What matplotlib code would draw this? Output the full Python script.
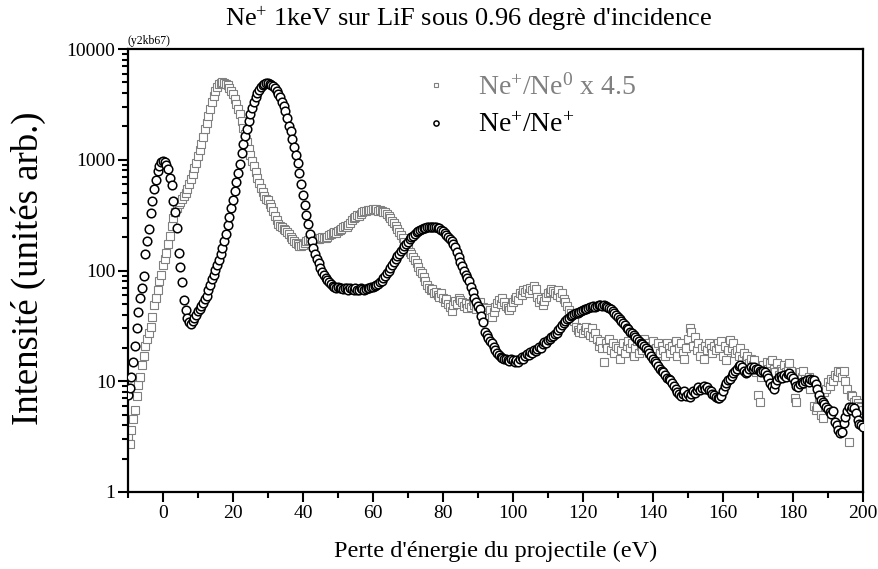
import numpy as np
import matplotlib
matplotlib.use('Agg')
import matplotlib.pyplot as plt
from matplotlib.ticker import LogLocator, MultipleLocator, NullFormatter, FixedLocator

plt.rcParams['font.family'] = 'serif'
plt.rcParams['font.serif'] = ['Liberation Serif', 'DejaVu Serif']
plt.rcParams['mathtext.fontset'] = 'custom'
plt.rcParams['mathtext.rm'] = 'Liberation Serif'
plt.rcParams['mathtext.it'] = 'Liberation Serif:italic'

# energy loss grid (eV), one channel every 0.5 eV
energy = np.arange(-10, 200.5, 0.5)

# Ne+ scattered as Ne+ (arb. units), 10 channels per row
ne_plus = [
    7.5, 8.7, 11, 15, 21, 30, 42, 56, 70, 90,
    140, 185, 235, 330, 420, 550, 660, 790, 880, 950,
    980, 950, 900, 830, 690, 590, 420, 340, 240, 145,
    108, 78, 54, 44, 37, 34, 33, 35, 37, 40,
    43, 45, 48, 51, 55, 59, 66, 74, 83, 92,
    102, 112, 125, 140, 160, 185, 212, 255, 305, 365,
    435, 520, 625, 760, 920, 1150, 1400, 1650, 1900, 2250,
    2600, 2950, 3300, 3650, 4000, 4250, 4500, 4700, 4850, 4900,
    4900, 4850, 4750, 4600, 4400, 4200, 3950, 3650, 3350, 3050,
    2750, 2400, 2000, 1800, 1550, 1300, 1100, 930, 760, 600,
    480, 390, 320, 265, 215, 185, 160, 142, 128, 117,
    106, 97, 91, 86, 82, 78, 75, 73, 71, 70,
    71, 69, 70, 68, 70, 69, 67, 70, 68, 66,
    69, 67, 66, 69, 68, 66, 68, 70, 69, 71,
    71, 72, 74, 76, 79, 81, 86, 90, 95, 100,
    106, 112, 119, 127, 135, 142, 149, 157, 165, 173,
    182, 191, 199, 207, 214, 221, 227, 232, 237, 240,
    243, 246, 248, 249, 247, 249, 246, 243, 240, 233,
    226, 218, 210, 202, 193, 183, 172, 162, 148, 133,
    120, 110, 99, 91, 85, 80, 71, 64, 57, 52,
    48, 45, 39, 34, 28, 26, 24.5, 23, 22, 20.5,
    19, 18, 17.2, 16.5, 16.2, 15.8, 16, 15.5, 15.2, 15.8,
    15.4, 15, 15.6, 15, 15.8, 16.4, 16, 17, 17.8, 17.2,
    18.5, 18, 19, 18.6, 19.5, 20.5, 20, 21.5, 22.5, 22,
    23.5, 24, 25, 25.5, 26.5, 27.5, 29, 30.5, 32, 33.5,
    35, 36.5, 37.5, 38.5, 39.5, 40.5, 41, 41.5, 42.5, 43,
    44, 44.5, 45, 46, 46.5, 47, 47.5, 47, 48, 48.5,
    49, 48, 49, 48, 47, 46, 44.5, 43, 41.5, 40,
    38, 36.5, 35, 33.5, 32, 30.5, 29.5, 28, 27, 26,
    25, 24, 23, 22, 21.5, 21, 20, 19, 18, 17,
    16, 15.3, 14.5, 13.8, 13, 12.5, 12, 11.3, 10.8, 10.5,
    10.2, 9.6, 9, 8.5, 8, 7.6, 7.4, 7.6, 8.2, 7.3,
    7.6, 7.2, 7.6, 8.1, 7.8, 8.4, 8.9, 8.3, 8.7, 9.1,
    8.6, 8.9, 8.4, 8.2, 7.7, 7.5, 7.2, 7.0, 7.1, 7.4,
    8.2, 9.0, 9.6, 10.2, 10.5, 11.2, 11.8, 12.5, 13, 13.8,
    14, 13.5, 12.5, 11.8, 12, 12.8, 13.4, 13, 13.5, 12.8,
    13, 12.4, 12, 12.5, 12.1, 11.5, 10.6, 9.6, 9, 8.6,
    9.5, 10.3, 11, 11.2, 10.8, 11.5, 11, 11.6, 11.8, 11.2,
    10.6, 9.8, 9, 8.9, 9.4, 9.9, 9.6, 10, 10.3, 9.9,
    10.4, 10.2, 10.3, 9.5, 8.5, 7.5, 6.8, 6.5, 6.2, 5.9,
    5.6, 5.3, 5.1, 5.4, 4.3, 4, 3.6, 3.4, 3.5, 4.2,
    4.8, 5.4, 5.8, 5.5, 5.9, 5.7, 5.2, 4.5, 4.1, 4.0,
    3.9,
]

# Ne+ scattered as Ne0, multiplied by 4.5
ne_zero_x45 = [
    3.2, 2.7, 3.6, 4.6, 5.5, 7.4, 9.3, 11, 14, 17,
    21, 24, 27, 31, 38, 49, 56, 67, 80, 92,
    112, 128, 145, 175, 205, 250, 300, 340, 370, 395,
    415, 440, 470, 500, 550, 600, 670, 750, 840, 930,
    1080, 1220, 1400, 1620, 1900, 2150, 2500, 2900, 3350, 3750,
    4150, 4500, 4800, 4950, 5000, 4950, 4850, 4700, 4450, 4200,
    3950, 3550, 3200, 2900, 2600, 2250, 1950, 1700, 1450, 1250,
    1100, 980, 870, 780, 690, 620, 560, 510, 470, 440,
    430, 400, 375, 345, 310, 285, 265, 252, 245, 238,
    232, 222, 212, 202, 192, 184, 177, 172, 166, 166,
    170, 178, 185, 188, 190, 186, 192, 196, 194, 191,
    196, 200, 198, 195, 202, 208, 212, 216, 222, 218,
    225, 232, 238, 245, 250, 246, 256, 270, 285, 295,
    305, 315, 312, 325, 335, 342, 348, 352, 355, 350,
    358, 352, 356, 348, 352, 346, 340, 336, 325, 310,
    296, 282, 266, 250, 236, 222, 208, 195, 182, 170,
    158, 148, 140, 132, 125, 117, 108, 100, 94, 88,
    80, 74, 70, 66, 68, 62, 64, 60, 58, 62,
    56, 52, 55, 50, 47, 43, 49, 53, 50, 56,
    54, 52, 48, 51, 46, 50, 47, 53, 49, 45,
    48, 52, 44, 47, 42, 46, 40, 44, 38, 42,
    47, 51, 54, 50, 56, 52, 48, 46, 44, 47,
    52, 55, 58, 54, 62, 60, 66, 64, 68, 62,
    70, 66, 72, 68, 58, 52, 55, 49, 53, 58,
    62, 64, 68, 65, 63, 60, 66, 58, 62, 55,
    52, 48, 44, 41, 38, 35, 31, 29, 28, 30,
    27, 29, 31, 28, 26, 30, 25, 27, 24, 21,
    23, 20, 15, 22, 20, 24, 19, 22, 18, 21,
    20, 16, 19, 22, 18, 21, 23, 20, 22, 17,
    20, 23, 18, 21, 19, 24, 20, 22, 18, 21,
    23, 19, 20, 22, 18, 21, 19, 17, 22, 20,
    18, 21, 19, 23, 17, 20, 22, 18, 16, 20,
    24, 30, 28, 21, 25, 19, 22, 17, 20, 16,
    21, 19, 22, 20, 18, 21, 19, 22, 20, 23,
    17, 21, 15.5, 19, 23.5, 20, 22, 18, 19, 17,
    20, 16, 18, 15.5, 17, 14.5, 16, 14, 15.5, 12,
    7.5, 6.5, 11, 14, 12.5, 15, 13, 14.5, 15.5, 13,
    12, 14.5, 11.5, 13, 12.5, 14, 12, 13.5, 14.5, 12.5,
    11, 7, 6.5, 10, 12, 11, 12.5, 10.5, 9.5, 11,
    8.5, 10, 6, 5.5, 5.8, 7, 5, 4.7, 8, 8.5,
    9.8, 9, 10.5, 10, 11.5, 11, 12.5, 12, 11, 12.5,
    10, 8.5, 2.8, 7.5, 7.3, 6.5, 6.8, 6.3, 6, 5.8,
    5.5,
]

x_ticks = [0, 20, 40, 60, 80, 100, 120, 140, 160, 180, 200]
y_ticks = [1, 10, 100, 1000, 10000]
y_ticklabels = ['1', '10', '100', '1000', '10000']

fig = plt.figure(figsize=(8.79, 5.69), dpi=100)
ax = fig.add_axes([128 / 879, 1 - 492 / 569, 735 / 879, 443 / 569])

ax.plot(energy, ne_zero_x45, linestyle='none', marker='s', markersize=5.2,
        markerfacecolor='white', markeredgecolor='#808080', markeredgewidth=0.8,
        label=r'Ne$^{+}$/Ne$^{0}$ x 4.5', zorder=2)
ax.plot(energy, ne_plus, linestyle='none', marker='o', markersize=6.2,
        markerfacecolor='white', markeredgecolor='black', markeredgewidth=1.1,
        label=r'Ne$^{+}$/Ne$^{+}$', zorder=3)

ax.set_yscale('log')
ax.set_xlim(-10, 200)
ax.set_ylim(1, 10000)

ax.xaxis.set_major_locator(FixedLocator(x_ticks))
ax.xaxis.set_minor_locator(MultipleLocator(10))
ax.yaxis.set_major_locator(FixedLocator(y_ticks))
ax.set_yticklabels(y_ticklabels)
ax.yaxis.set_minor_locator(LogLocator(base=10, subs=np.arange(2, 10)))
ax.yaxis.set_minor_formatter(NullFormatter())

ax.tick_params(which='both', direction='out', top=False, right=False, width=1.5)
ax.tick_params(which='major', length=7, labelsize=14, pad=2)
ax.tick_params(which='minor', length=4)
for side in ax.spines.values():
    side.set_linewidth(1.6)

ax.set_xlabel("Perte d'énergie du projectile (eV)", fontsize=17.5, labelpad=14)
ax.set_ylabel('Intensité (unités arb.)', fontsize=26.5)
ax.yaxis.set_label_coords(-0.112, 0.505)

fig.text(469 / 879, 1 - 19 / 569, r"Ne$^{+}$ 1keV sur LiF sous 0.96 degrè d'incidence",
         ha='center', va='center', fontsize=19)
ax.text(0.0, 1.004, '(y2kb67)', transform=ax.transAxes, fontsize=8.5,
        ha='left', va='bottom')

ax.legend(loc='upper left', bbox_to_anchor=(0.366, 1.0), frameon=False,
          markerscale=0.6, handlelength=1.0, handletextpad=1.0, labelspacing=0.45,
          fontsize=20, labelcolor=['#808080', 'black'])

fig.savefig('out.png', dpi=100)
